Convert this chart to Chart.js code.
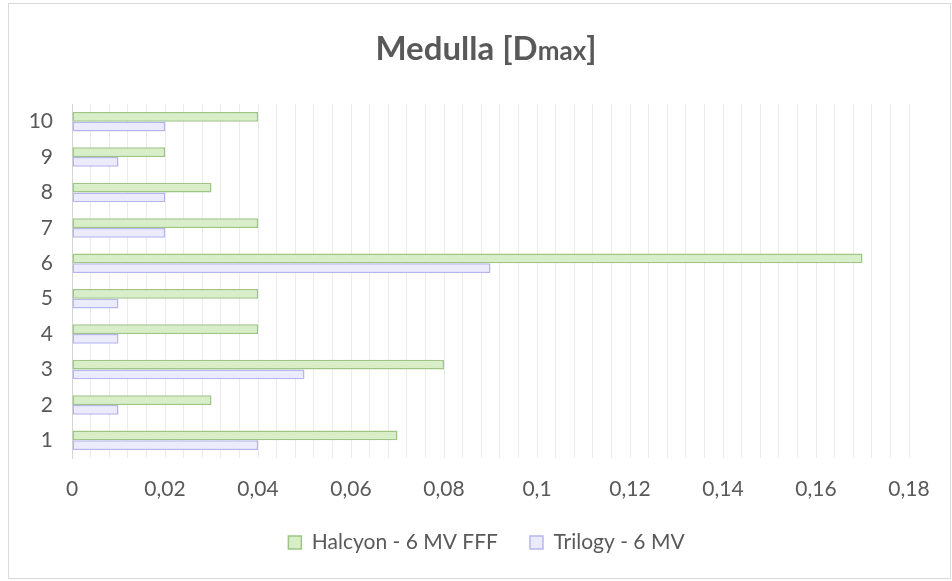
<!DOCTYPE html>
<html>
<head>
<meta charset="utf-8">
<script src="https://cdn.jsdelivr.net/npm/chart.js@4/dist/chart.umd.min.js"></script>
<style>
  html, body { margin: 0; padding: 0; background: #ffffff; }
  #wrap { position: relative; width: 952px; height: 581px; }
  #frame { position: absolute; left: 8px; top: 3px; width: 941px; height: 574px; border: 1px solid #d9d9d9; }
  #chart { position: absolute; left: 0; top: 0; }
</style>
</head>
<body>
<div id="wrap">
  <div id="frame"></div>
  <canvas id="chart" width="952" height="581"></canvas>
</div>
<script>
// Patient numbers on the vertical axis
const categories = ['1', '2', '3', '4', '5', '6', '7', '8', '9', '10'];
// Dmax to the medulla per patient
const halcyon = [0.07, 0.03, 0.08, 0.04, 0.04, 0.17, 0.04, 0.03, 0.02, 0.04];
const trilogy = [0.04, 0.01, 0.05, 0.01, 0.01, 0.09, 0.02, 0.02, 0.01, 0.02];
const seriesNames = ['Halcyon - 6 MV FFF', 'Trilogy - 6 MV'];
// Labelled values on the horizontal axis (every 0.02)
const xTickLabels = ['0', '0,02', '0,04', '0,06', '0,08', '0,1', '0,12', '0,14', '0,16', '0,18'];

const FONT = 'Lato, Calibri, Carlito, sans-serif';
const TEXT = '#595959';

// Title with a smaller "max" after the D
const titlePlugin = {
  id: 'mixedTitle',
  afterDraw(chart) {
    const ctx = chart.ctx;
    const parts = [
      { t: 'Medulla [D', f: 'bold 33px ' + FONT },
      { t: 'max', f: 'bold 26px ' + FONT },
      { t: ']', f: 'bold 33px ' + FONT }
    ];
    ctx.save();
    let total = 0;
    parts.forEach(p => { ctx.font = p.f; p.w = ctx.measureText(p.t).width; total += p.w; });
    let x = 486 - total / 2;
    ctx.fillStyle = TEXT;
    ctx.textBaseline = 'alphabetic';
    ctx.textAlign = 'left';
    parts.forEach(p => { ctx.font = p.f; ctx.fillText(p.t, x, 60); x += p.w; });
    ctx.restore();
  }
};

// Centre the legend row under the title rather than under the whole canvas
const legendShift = {
  id: 'legendShift',
  afterLayout(chart) {
    const lg = chart.legend;
    if (lg) { lg.left += 27; lg.right += 27; }
  }
};

new Chart(document.getElementById('chart'), {
  type: 'bar',
  data: {
    labels: categories,
    datasets: [
      {
        label: seriesNames[0],
        data: halcyon,
        backgroundColor: '#d8eec9',
        borderColor: '#9fc585',
        borderWidth: 1.5,
        borderSkipped: false
      },
      {
        label: seriesNames[1],
        data: trilogy,
        backgroundColor: '#ebebfc',
        borderColor: '#b6b6ee',
        borderWidth: 1.5,
        borderSkipped: false
      }
    ]
  },
  options: {
    indexAxis: 'y',
    responsive: false,
    animation: false,
    events: [],
    layout: { padding: { top: 104, left: 10, right: 43, bottom: 18 } },
    datasets: { bar: { categoryPercentage: 0.55, barPercentage: 1.0 } },
    scales: {
      x: {
        type: 'linear',
        min: 0,
        max: 0.18,
        afterFit(scale) { scale.height = 42; },
        grid: { color: '#ebebeb', lineWidth: 1, drawTicks: false },
        border: { display: false },
        ticks: {
          stepSize: 0.004,
          maxTicksLimit: 100,
          autoSkip: false,
          maxRotation: 0,
          padding: 19,
          color: TEXT,
          font: { family: FONT, size: 21 },
          callback(value) {
            const k = value / 0.02;
            const r = Math.round(k);
            return Math.abs(k - r) < 1e-6 ? xTickLabels[r] : '';
          }
        }
      },
      y: {
        type: 'category',
        reverse: true,
        afterFit(scale) { scale.width = 62; },
        grid: { display: false, drawTicks: false },
        border: { display: true, color: '#d4d4d4', width: 1 },
        ticks: {
          padding: 19,
          color: TEXT,
          font: { family: FONT, size: 21 }
        }
      }
    },
    plugins: {
      title: { display: false },
      tooltip: { enabled: false },
      legend: {
        position: 'bottom',
        labels: {
          boxWidth: 13,
          boxHeight: 13,
          padding: 32,
          color: TEXT,
          font: { family: FONT, size: 21 }
        }
      }
    }
  },
  plugins: [titlePlugin, legendShift]
});
</script>
</body>
</html>
